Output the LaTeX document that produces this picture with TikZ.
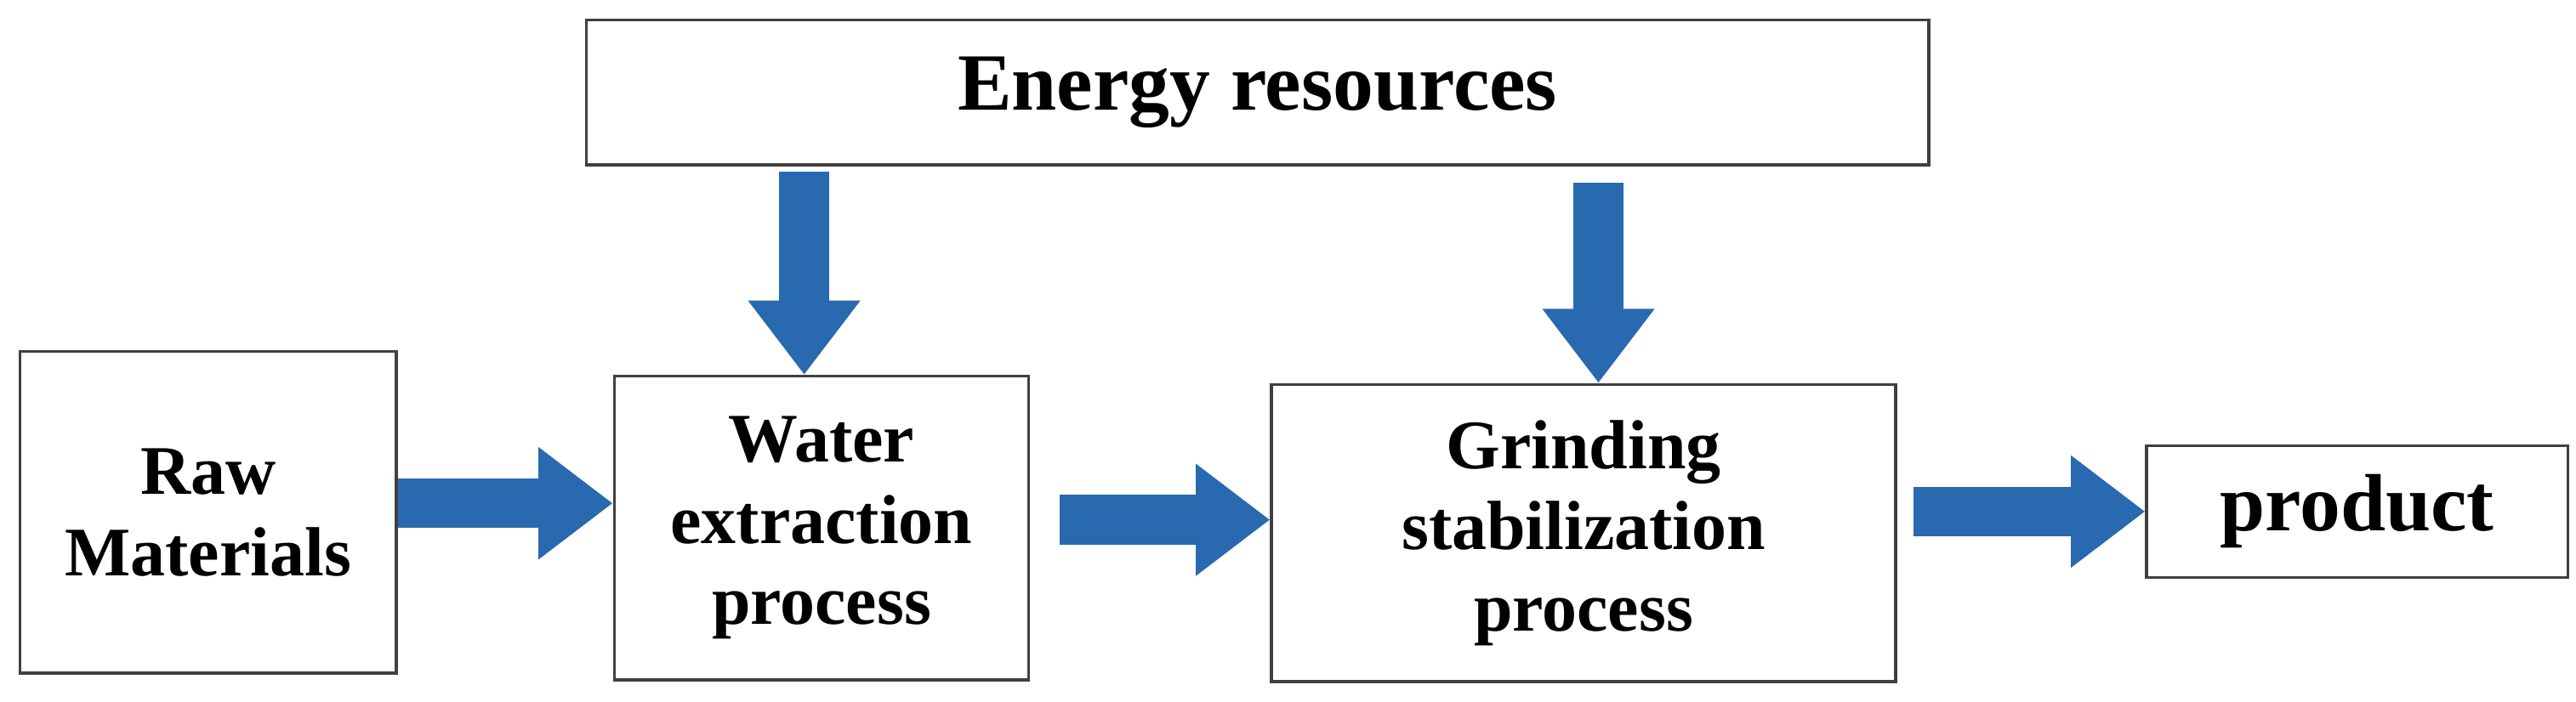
\documentclass[tikz,border=0pt]{standalone}
\usepackage{fontspec}
\setmainfont{Liberation Serif}
\usetikzlibrary{arrows.meta,calc}
\definecolor{ablue}{RGB}{40,105,175}
\begin{document}
\begin{tikzpicture}[x=0.1mm,y=-0.1mm,
  box/.style={draw=black!75,line width=0.5pt,fill=white,align=center,font=\bfseries\fontsize{12}{14}\selectfont,inner sep=0pt},
  barrow/.style={draw=ablue,line width=3mm,-{Triangle[width=6.5mm,length=4.5mm]}}]
\useasboundingbox (0,0) rectangle (1560,425);
\node[box,minimum width=81.3mm,minimum height=8.8mm] (energy) at (761.5,56) {\fontsize{14}{16}\selectfont Energy resources};
\node[box,minimum width=22.8mm,minimum height=19.5mm] (raw) at (126,310.5) {Raw\\Materials};
\node[box,minimum width=25.1mm,minimum height=18.4mm] (water) at (497.5,320) {Water\\extraction\\process};
\node[box,minimum width=37.8mm,minimum height=18mm] (grind) at (959,323) {Grinding\\stabilization\\process};
\node[box,minimum width=25.5mm,minimum height=8mm] (prod) at (1427.5,310) {\fontsize{14}{16}\selectfont product};
\coordinate (h1) at (0,305);
\coordinate (h2) at (0,315);
\coordinate (h3) at (0,310);
\draw[barrow] (raw.east |- h1) -- (water.west |- h1);
\draw[barrow] ($(water.east |- h2)+(18,0)$) -- (grind.west |- h2);
\draw[barrow] ($(grind.east |- h3)+(10,0)$) -- (prod.west |- h3);
\coordinate (v1) at (487,0);
\coordinate (v2) at (968,0);
\draw[barrow] ($(energy.south -| v1)+(0,3)$) -- (water.north -| v1);
\draw[barrow] ($(energy.south -| v2)+(0,10)$) -- (grind.north -| v2);
\end{tikzpicture}
\end{document}
